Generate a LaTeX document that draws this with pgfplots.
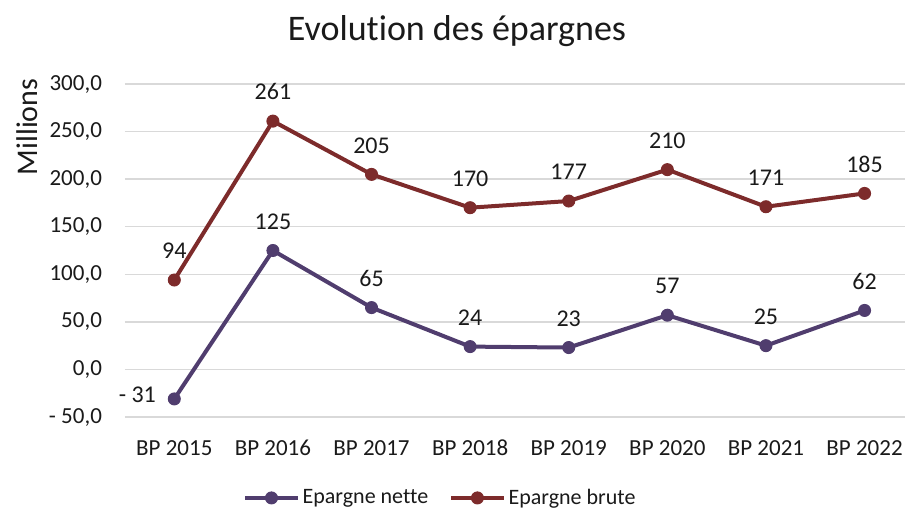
\documentclass[border=0pt]{standalone}
\usepackage{fontspec}
\setmainfont{Carlito}[Ligatures=CommonOff]
\usepackage{pgfplots}
\pgfplotsset{compat=1.18}

\definecolor{nette}{HTML}{503D6E}
\definecolor{brute}{HTML}{7D2B2B}
\definecolor{grille}{HTML}{D9D9D9}
\definecolor{texte}{HTML}{1A1A1A}

\begin{document}
\begin{tikzpicture}[x=0.5pt,y=0.5pt]
\useasboundingbox (0,0) rectangle (905,511);
\begin{axis}[
  at={(62.5pt,47pt)}, anchor=south west,
  scale only axis, width=390pt, height=166.5pt,
  xmin=-0.5, xmax=7.41, ymin=-50, ymax=300,
  axis line style={draw=none},
  major tick length=0pt,
  ymajorgrids, grid style={grille, line width=0.75pt},
  xtick={0,...,7},
  xticklabels={BP 2015,BP 2016,BP 2017,BP 2018,BP 2019,BP 2020,BP 2021,BP 2022},
  ytick={-50,0,50,100,150,200,250,300},
  yticklabels={{- 50,0},{0,0},{50,0},{100,0},{150,0},{200,0},{250,0},{300,0}},
  ticklabel style={font=\fontsize{11.5}{13}\selectfont, text=texte},
  yticklabel style={anchor=east, xshift=-8pt},
  xticklabel style={anchor=north, yshift=-8pt},
  clip=false,
  point meta=explicit symbolic,
  nodes near coords,
  every node near coord/.append style={font=\fontsize{12}{14}\selectfont, text=texte, anchor=south, yshift=7pt},
  legend columns=2,
  legend style={draw=none, at={(0.405,-0.243)}, anchor=center,
    font=\fontsize{11}{13}\selectfont, text=texte,
    nodes={inner xsep=1.5pt},
    /tikz/every even column/.append style={column sep=9pt}},
  legend image code/.code={\draw[#1, mark repeat=2, mark phase=2] plot coordinates {(0cm,0cm) (0.46cm,0cm) (0.92cm,0cm)};},
]
\addplot[nette, line width=2pt, mark=*, mark size=3pt, mark options={solid, fill=nette, line width=0.5pt},
  coordinate style/.condition={x<0.5}{xshift=-18.5pt, yshift=-12.5pt}]
  coordinates {(0,-31) [- 31] (1,125) [125] (2,65) [65] (3,24) [24] (4,23) [23] (5,57) [57] (6,25) [25] (7,62) [62]};
\addlegendentry{Epargne nette}
\addplot[brute, line width=2pt, mark=*, mark size=3pt, mark options={solid, fill=brute, line width=0.5pt}]
  coordinates {(0,94) [94] (1,261) [261] (2,205) [205] (3,170) [170] (4,177) [177] (5,210) [210] (6,171) [171] (7,185) [185]};
\addlegendentry{Epargne brute}
\end{axis}
\node[text=texte, font=\fontsize{18}{21}\selectfont] at (457,480) {Evolution des épargnes};
\node[text=texte, rotate=90, font=\fontsize{15}{18}\selectfont] at (27,384) {Millions};
\end{tikzpicture}
\end{document}
